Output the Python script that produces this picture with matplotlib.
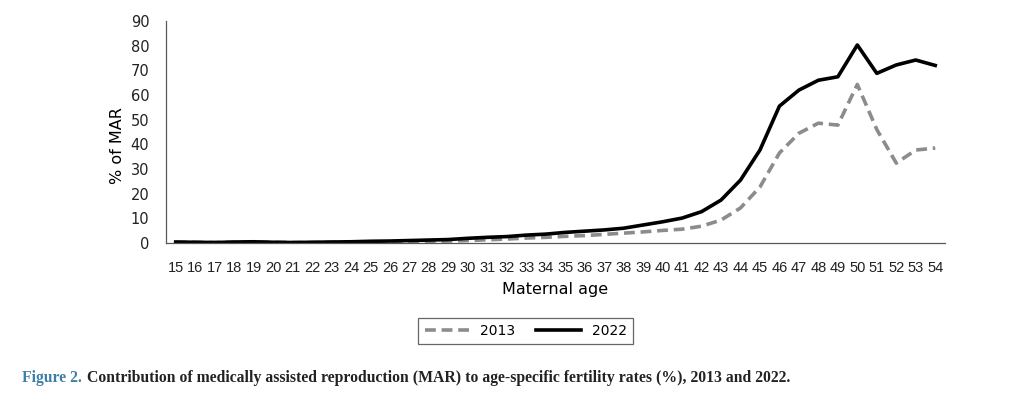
import matplotlib.pyplot as plt

ages = list(range(15, 55))
mar_2013 = [0.3, 0.3, 0.2, 0.3, 0.4, 0.3, 0.2, 0.2, 0.3, 0.3, 0.4, 0.5, 0.6, 0.7, 0.8,
            1.0, 1.3, 1.6, 2.0, 2.3, 2.7, 3.0, 3.5, 4.0, 4.5, 5.1, 5.6, 6.8, 9.3, 14.2,
            22.7, 36.5, 44.5, 48.6, 47.8, 64.3, 46.0, 32.4, 37.7, 38.5]
mar_2022 = [0.4, 0.3, 0.2, 0.4, 0.5, 0.3, 0.2, 0.3, 0.4, 0.5, 0.7, 0.8, 1.0, 1.2, 1.4,
            1.9, 2.3, 2.6, 3.2, 3.6, 4.3, 4.8, 5.3, 6.0, 7.3, 8.6, 10.1, 12.7, 17.4, 25.5,
            37.7, 55.5, 62.0, 66.0, 67.4, 80.3, 68.8, 72.2, 74.2, 72.0]
yticks = list(range(0, 91, 10))

fig = plt.figure(figsize=(10.15, 4.05), dpi=100)
ax = fig.add_axes([0.1635, 0.40, 0.7675, 0.548])

x = list(range(len(ages)))
ax.plot(x, mar_2013, color='#8c8c8c', linewidth=2.6, linestyle=(0, (3, 1.6)), label='2013')
ax.plot(x, mar_2022, color='black', linewidth=2.6, label='2022')

ax.set_xlim(-0.5, len(ages) - 0.5)
ax.set_ylim(0, 90)
ax.set_yticks(yticks)
ax.set_yticklabels([str(v) for v in yticks], fontsize=10.5, color='#222222')
ax.set_xticks(x)
ax.set_xticklabels([str(a) for a in ages], fontsize=10.5, family='Liberation Sans',
                   color='#222222')
ax.tick_params(axis='x', length=0, pad=13)
ax.tick_params(axis='y', length=0, pad=12)
for s in ['top', 'right']:
    ax.spines[s].set_visible(False)
for s in ['left', 'bottom']:
    ax.spines[s].set_color('#595959')
    ax.spines[s].set_linewidth(0.9)

ax.set_xlabel('Maternal age', fontsize=11.5, labelpad=5)
ax.set_ylabel('% of MAR', fontsize=11.5)
ax.yaxis.set_label_coords(-0.052, 0.44)

leg = fig.legend(loc='center', bbox_to_anchor=(0.518, 0.183), ncol=2, frameon=True,
                 fancybox=False, edgecolor='#404040', fontsize=10, handlelength=3.2,
                 columnspacing=1.5, borderpad=0.45)
leg.get_frame().set_linewidth(0.9)

fig.text(0.022, 0.067, 'Figure 2.', color='#3d7fa6', fontsize=11.3, family='Liberation Serif',
         weight='bold', va='center')
fig.text(0.086, 0.067, 'Contribution of medically assisted reproduction (MAR) to age-specific '
         'fertility rates (%), 2013 and 2022.', color='#222222', fontsize=11.3,
         family='Liberation Serif', weight='bold', va='center')

fig.savefig('out.png', dpi=100)
